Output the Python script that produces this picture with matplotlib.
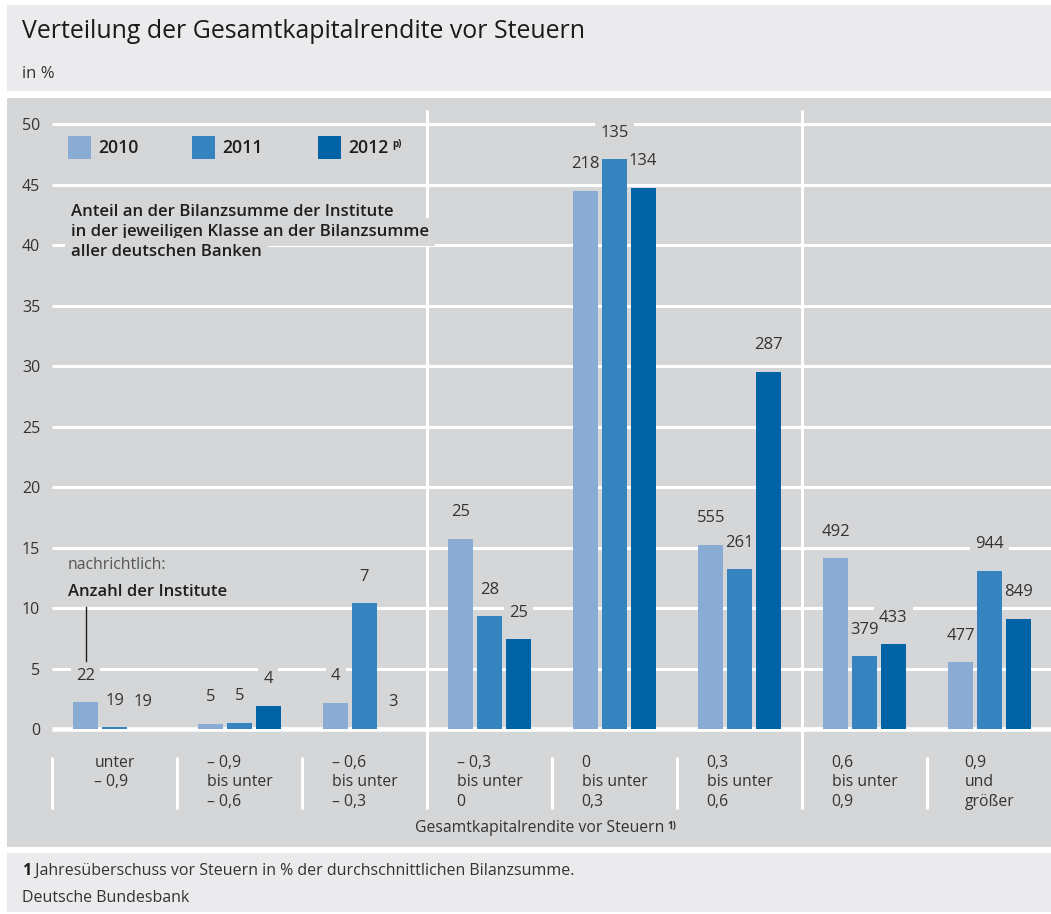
import matplotlib.pyplot as plt
from matplotlib.patches import Rectangle
from matplotlib.lines import Line2D
import numpy as np

# data
classes = ['unter\n\u2013 0,9', '\u2013 0,9\nbis unter\n\u2013 0,6', '\u2013 0,6\nbis unter\n\u2013 0,3',
           '\u2013 0,3\nbis unter\n0', '0\nbis unter\n0,3', '0,3\nbis unter\n0,6',
           '0,6\nbis unter\n0,9', '0,9\nund\ngr\u00f6\u00dfer']
years = ['2010', '2011', '2012']
share_2010 = [2.2, 0.45, 2.15, 15.7, 44.5, 15.2, 14.1, 5.5]
share_2011 = [0.15, 0.5, 10.4, 9.3, 47.1, 13.2, 6.0, 13.1]
share_2012 = [0.0, 1.9, 0.0, 7.4, 44.75, 29.5, 7.0, 9.1]
count_2010 = [22, 5, 4, 25, 218, 555, 492, 477]
count_2011 = [19, 5, 7, 28, 135, 261, 379, 944]
count_2012 = [19, 4, 3, 25, 134, 287, 433, 849]

colors = ['#8aabd3', '#3584bf', '#0063a6']
panel = '#d5d6d8'
light = '#ebebed'
txt = '#333333'
dark = '#1e1e1e'

plt.rcParams['font.family'] = ['Open Sans', 'DejaVu Sans']

W, H = 1051, 914
fig = plt.figure(figsize=(W / 100, H / 100), dpi=100)
fig.patch.set_facecolor('white')


def fx(px):
    return px / W


def fy(py):
    return 1 - py / H


# background boxes
fig.add_artist(Rectangle((fx(7), fy(91)), fx(1051) - fx(7), fy(5) - fy(91),
                         transform=fig.transFigure, fc=light, ec='none', zorder=-2))
fig.add_artist(Rectangle((fx(7), fy(847)), fx(1051) - fx(7), fy(98) - fy(847),
                         transform=fig.transFigure, fc=panel, ec='none', zorder=-2))
fig.add_artist(Rectangle((fx(7), fy(912)), fx(1051) - fx(7), fy(853) - fy(912),
                         transform=fig.transFigure, fc=light, ec='none', zorder=-2))

ax = fig.add_axes([fx(52), fy(809), 1000 / W, (809 - 110) / H])
ax.set_facecolor('none')
for s in ax.spines.values():
    s.set_visible(False)

x = np.arange(len(classes))
ax.set_xlim(-0.5, 7.5)
ax.set_ylim(-6.61, 51.16)

# grid
ax.hlines(range(5, 55, 5), -0.5, 7.5, color='white', lw=2.2, zorder=1)
ax.hlines(0, -0.5, 7.5, color='white', lw=3.3, zorder=1)
ax.vlines([2.5, 5.5], -6.61, 51.16, color='white', lw=2.2, zorder=1)
ax.vlines(np.arange(-0.5, 8, 1), -6.61, -2.31, color='white', lw=2.2, zorder=1, clip_on=False)

ax.set_yticks(range(0, 55, 5))
ax.set_xticks([])
ax.tick_params(axis='y', length=0, pad=8.5, labelsize=11.5, labelcolor=txt)

shares = [share_2010, share_2011, share_2012]
counts = [count_2010, count_2011, count_2012]
offs = [-0.23, 0, 0.23]
for k in range(3):
    ax.bar(x + offs[k], shares[k], width=0.2, color=colors[k], zorder=3)
    for i in range(len(classes)):
        # box first (hides grid), then the number on top of all boxes
        ax.text(x[i] + offs[k], shares[k][i] + 2.2, str(counts[k][i]), ha='center', va='center',
                fontsize=12, color='none', zorder=1.5,
                bbox=dict(boxstyle='square,pad=0.3', fc=panel, ec='none'))
        ax.text(x[i] + offs[k], shares[k][i] + 2.2, str(counts[k][i]), ha='center', va='center',
                fontsize=12, color=txt, zorder=2)

# category labels
for i, lab in enumerate(classes):
    ax.text(x[i], -2.12, lab, ha='center', va='top', multialignment='left',
            fontsize=11.3, color=txt, linespacing=1.3)

# axis title
xt = fig.text(fx(540), fy(828), 'Gesamtkapitalrendite vor Steuern', ha='center', va='center',
              fontsize=11.3, color=txt)
ax.annotate('1)', xy=(1, 1), xycoords=xt, xytext=(2, -1), textcoords='offset points',
            ha='left', va='top', fontsize=7, fontweight='bold', color=txt)

# legend
lx = [68, 192, 318]
for k in range(3):
    fig.add_artist(Rectangle((fx(lx[k]), fy(159)), 23 / W, 23 / H, transform=fig.transFigure,
                             fc=colors[k], ec='none'))
    t = fig.text(fx(lx[k] + 30), fy(148), years[k], ha='left', va='center', fontsize=12.7,
                 color=dark, fontweight='semibold')
ax.annotate('p)', xy=(1, 1), xycoords=t, xytext=(3, 0), textcoords='offset points',
            ha='left', va='top', fontsize=7, fontweight='bold', color=dark)

# notes
notes = ['Anteil an der Bilanzsumme der Institute',
         'in der jeweiligen Klasse an der Bilanzsumme',
         'aller deutschen Banken']
for j, line in enumerate(notes):
    fig.text(fx(71), fy(212 + 20 * j), line, ha='left', va='center', fontsize=12.05,
             color=dark, fontweight='semibold',
             bbox=dict(boxstyle='square,pad=0.35', fc=panel, ec='none'))

fig.text(fx(68), fy(565), 'nachrichtlich:', ha='left', va='center', fontsize=11.3, color='#555555')
fig.text(fx(68), fy(592), 'Anzahl der Institute', ha='left', va='center', fontsize=12.0,
         color=dark, fontweight='semibold')
fig.add_artist(Line2D([fx(85.5), fx(85.5)], [fy(607), fy(661)], transform=fig.transFigure,
                      color=dark, lw=1))

# title
fig.text(fx(22), fy(31), 'Verteilung der Gesamtkapitalrendite vor Steuern', ha='left', va='center',
         fontsize=17.9, color='#1a1a1a')
fig.text(fx(22), fy(74), 'in %', ha='left', va='center', fontsize=12, color=txt)

# footer
f1 = fig.text(fx(22), fy(871), '1', ha='left', va='center', fontsize=11.5, color=dark,
              fontweight='bold')
ax.annotate(' Jahres\u00fcberschuss vor Steuern in % der durchschnittlichen Bilanzsumme.',
            xy=(1, 0.5), xycoords=f1, ha='left', va='center', fontsize=11.5, color=txt)
fig.text(fx(22), fy(898), 'Deutsche Bundesbank', ha='left', va='center', fontsize=11.5, color=txt)

fig.savefig('out.png', dpi=100, facecolor='white')
